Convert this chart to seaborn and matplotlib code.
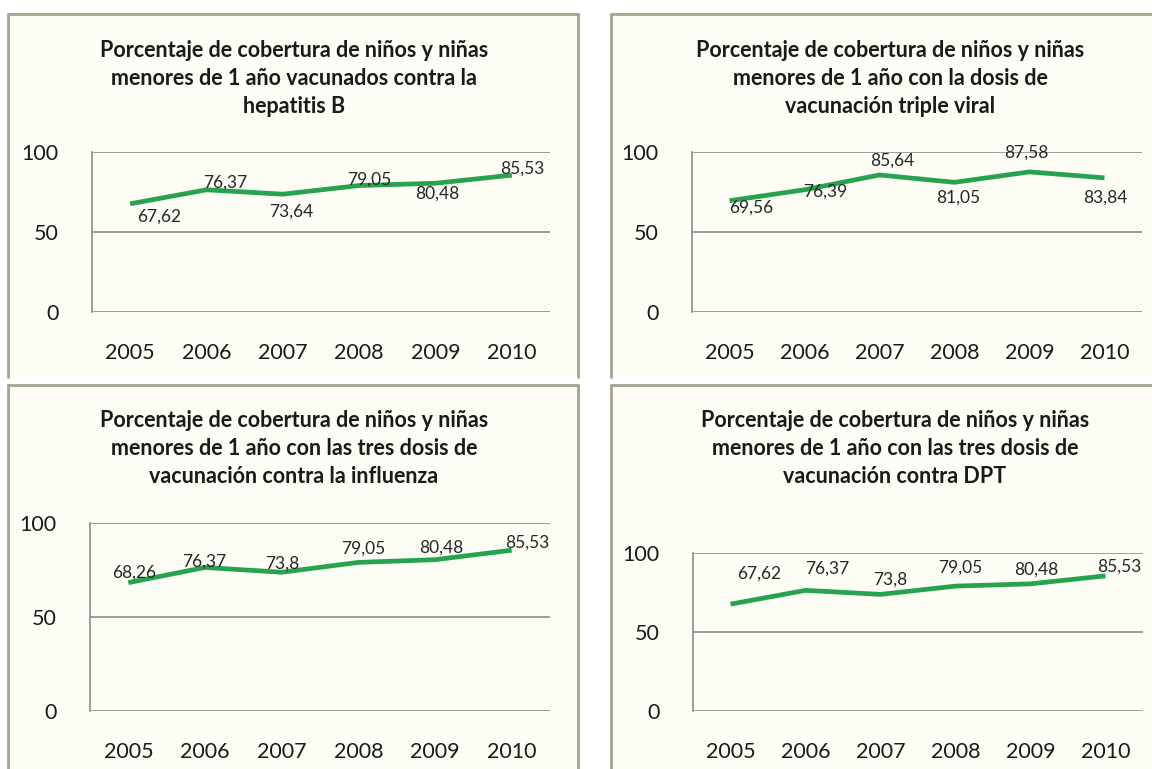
import matplotlib
matplotlib.use("Agg")
import matplotlib.pyplot as plt
import seaborn as sns
import pandas as pd
from matplotlib.lines import Line2D
from matplotlib.patches import Rectangle

# ---------------- data ----------------
years = ["2005", "2006", "2007", "2008", "2009", "2010"]

hepatitis_b = [67.62, 76.37, 73.64, 79.05, 80.48, 85.53]
triple_viral = [69.56, 76.39, 85.64, 81.05, 87.58, 83.84]
influenza = [68.26, 76.37, 73.80, 79.05, 80.48, 85.53]
dpt = [67.62, 76.37, 73.80, 79.05, 80.48, 85.53]

hepatitis_b_labels = ["67,62", "76,37", "73,64", "79,05", "80,48", "85,53"]
triple_viral_labels = ["69,56", "76,39", "85,64", "81,05", "87,58", "83,84"]
influenza_labels = ["68,26", "76,37", "73,8", "79,05", "80,48", "85,53"]
dpt_labels = ["67,62", "76,37", "73,8", "79,05", "80,48", "85,53"]

titles = [
    "Porcentaje de cobertura de niños y niñas\nmenores de 1 año vacunados contra la\nhepatitis B",
    "Porcentaje de cobertura de niños y niñas\nmenores de 1 año con la dosis de\nvacunación triple viral",
    "Porcentaje de cobertura de niños y niñas\nmenores de 1 año con las tres dosis de\nvacunación contra la influenza",
    "Porcentaje de cobertura de niños y niñas\nmenores de 1 año con las tres dosis de\nvacunación contra DPT",
]

y_ticks = [0, 50, 100]

# ---------------- styling / layout ----------------
sns.set_style("white")
FONT = ["Lato", "DejaVu Sans"]
plt.rcParams["font.family"] = FONT

W, H = 1152, 769
fig = plt.figure(figsize=(W / 100, H / 100), dpi=100)
fig.patch.set_facecolor("white")

GREEN = "#27a24f"
GRID = "#8c8c8c"
BORDER = "#a3a38e"
PANEL_BG = "#fdfdf6"

def fx(px):
    return px / W

def fy(py):
    return 1 - py / H

# panel frames (pixel coords: left, top, right, bottom)
panels = [(8, 14, 578, 377), (611, 14, 1160, 377), (8, 385, 578, 780), (611, 385, 1160, 780)]
for (l, t, r, b) in panels:
    fig.patches.append(Rectangle((fx(l), fy(b)), fx(r - l), (b - t) / H,
                                 transform=fig.transFigure, facecolor=PANEL_BG,
                                 edgecolor="none", zorder=-2))
    for xs, ys in [((l, l), (t, b)), ((l, r), (t, t)), ((r, r), (t, b))]:
        fig.lines.append(Line2D([fx(v) for v in xs], [fy(v) for v in ys],
                                transform=fig.transFigure, color=BORDER, lw=2.0, zorder=-1))

# axes rectangles (pixel: left, right, y at 100, y at 0)
axes_px = [(92, 550, 152, 312), (692, 1142, 152, 312), (90, 550, 523, 711), (693, 1143, 553, 711)]
title_px = [(294, 40), (890, 40), (294, 410), (895, 410)]

series = [hepatitis_b, triple_viral, influenza, dpt]
labels = [hepatitis_b_labels, triple_viral_labels, influenza_labels, dpt_labels]

# label offsets in pixels (dx, dy with dy upward)
offsets = [
    [(29, -13), (19, 7), (8, -17), (10, 6), (2, -10), (10, 7)],
    [(22, -7), (21, -2), (13, 14), (4, -15), (-3, 19), (1, -20)],
    [(6, 10), (-1, 6), (1, 9), (5, 14), (6, 12), (16, 8)],
    [(29, 31), (22, 22), (10, 15), (5, 18), (6, 14), (14, 9)],
]

for k in range(4):
    l, r, t, b = axes_px[k]
    ax = fig.add_axes([fx(l), fy(b), fx(r - l), (b - t) / H])
    ax.set_zorder(3)
    ax.set_facecolor("none")
    df = pd.DataFrame({"year": years, "value": series[k]})
    sns.lineplot(data=df, x="year", y="value", ax=ax, color=GREEN, lw=3.4,
                 sort=False, solid_capstyle="butt")
    ax.set_xlim(-0.5, len(years) - 0.5)
    ax.set_ylim(0, 100)
    ax.set_yticks(y_ticks)
    ax.set_xlabel("")
    ax.set_ylabel("")
    for yv in y_ticks:
        ax.axhline(yv, color=GRID, lw=1.2, zorder=0.5)
    for side in ["top", "right", "bottom"]:
        ax.spines[side].set_visible(False)
    ax.spines["left"].set_color(GRID)
    ax.spines["left"].set_linewidth(1.2)
    ax.tick_params(axis="both", length=0, labelsize=15.5, colors="#1a1a1a")
    ax.tick_params(axis="y", pad=24)
    ax.tick_params(axis="x", pad=22)
    for i, (v, lab) in enumerate(zip(series[k], labels[k])):
        dx, dy = offsets[k][i]
        ax.annotate(lab, (i, v), xytext=(dx, dy), textcoords="offset pixels",
                    ha="center", va="center", fontsize=12.5, color="#262626",
                    annotation_clip=False)
    tx, ty = title_px[k]
    fig.text(fx(tx), fy(ty), titles[k], ha="center", va="top", fontsize=15.5,
             fontweight="bold", color="#1a1a1a", linespacing=1.42, zorder=4)

fig.savefig("out.png", dpi=100)
